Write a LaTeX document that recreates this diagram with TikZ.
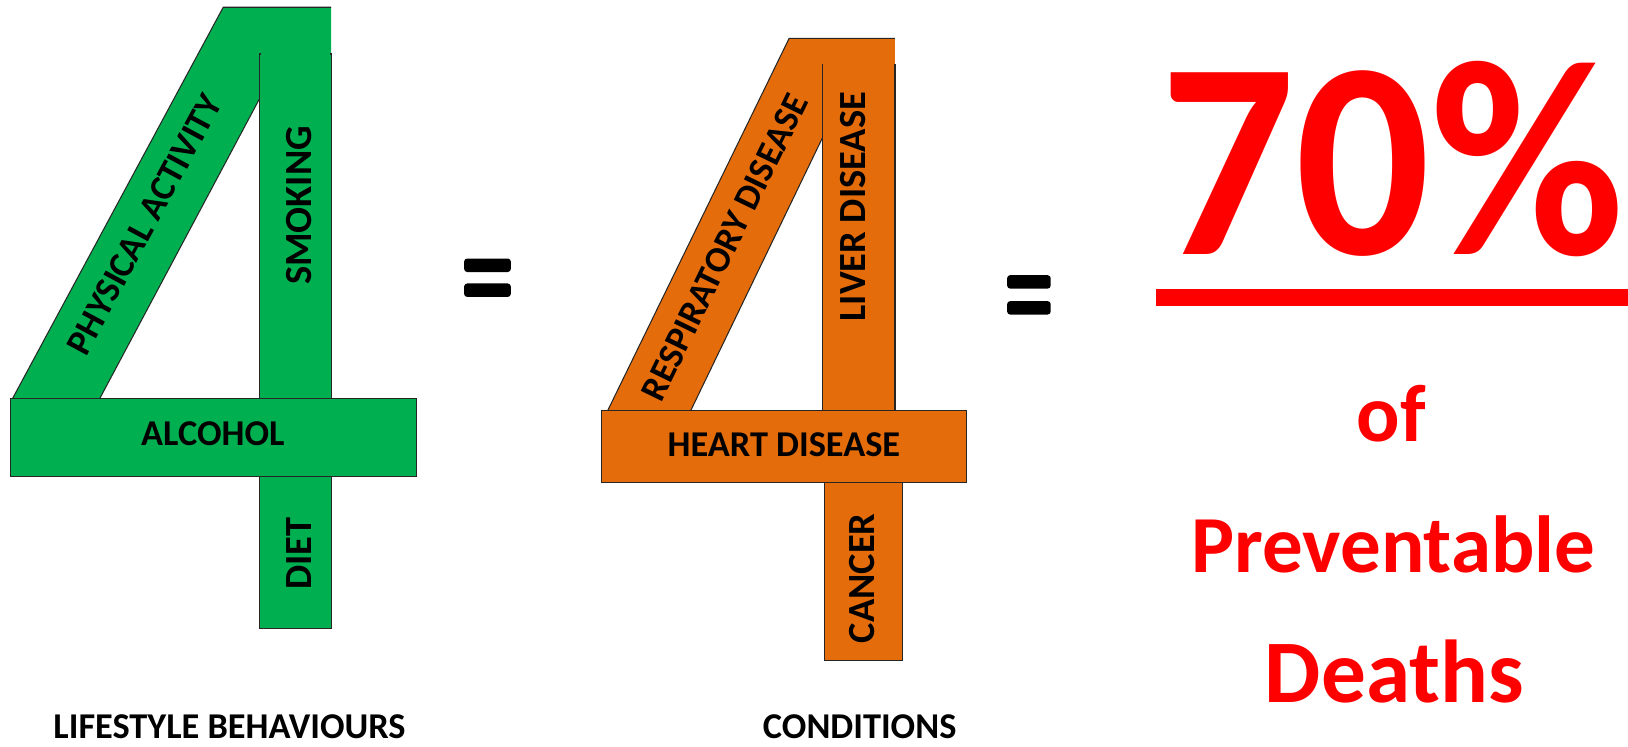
\documentclass[tikz,border=0pt]{standalone}
\usepackage{fontspec}
\setmainfont{Carlito}
\definecolor{lgreen}{HTML}{00B050}
\definecolor{lorange}{HTML}{E46C0A}
\definecolor{lred}{HTML}{FF0000}
\begin{document}
\begin{tikzpicture}[x=1pt,y=-1pt,
  outl/.style={draw=black!85,line width=1pt},
  lbl/.style={font=\fontsize{35}{40}\selectfont\bfseries,text=black,inner sep=0pt},
  vlbl/.style={font=\fontsize{37}{40}\selectfont\bfseries,text=black,inner sep=0pt,rotate=90},
  redtxt/.style={font=\fontsize{78}{90}\selectfont\bfseries,text=lred,inner sep=0pt,anchor=base},
  eqbar/.style={fill=black,rounded corners=3pt}]
\useasboundingbox (0,0) rectangle (1568,719);
% ---------- green 4 ----------
\fill[lgreen] (12,384) -- (215,7) -- (319,7) -- (319,52) -- (250,52) -- (250,95) -- (96,384) -- cycle;
\draw[outl] (12,384) -- (215,7) -- (319,7);
\draw[outl] (250,95) -- (96,384);
\draw[outl,fill=lgreen] (250,52) rectangle (319,605);
\fill[lgreen] (251,40) rectangle (318,60);
\draw[outl,fill=lgreen] (10,384) rectangle (401,459);
\node[lbl] (alc) at (205,418) {ALCOHOL};
\node[vlbl] (smk) at (288,198) {SMOKING};
\node[vlbl] (diet) at (288,533) {DIET};
\node[lbl,rotate=61.7] (phys) at (139,216) {PHYSICAL ACTIVITY};
% ---------- orange 4 ----------
\fill[lorange] (585,396) -- (760,37) -- (862,37) -- (862,62) -- (792,62) -- (792,133) -- (665,396) -- cycle;
\draw[outl] (585,396) -- (760,37) -- (862,37);
\draw[outl] (792,133) -- (665,396);
\draw[outl,fill=lorange] (792,62) rectangle (862,395);
\fill[lorange] (793,50) rectangle (861,68);
\draw[outl,fill=lorange] (794,465) rectangle (869,636);
\draw[outl,fill=lorange] (579,395) rectangle (931,465);
\node[lbl] (heart) at (755,428) {HEART DISEASE};
\node[vlbl] (liver) at (822,199) {LIVER DISEASE};
\node[vlbl] (cancer) at (830,557) {CANCER};
\node[lbl,rotate=64] (resp) at (698,238) {RESPIRATORY DISEASE};
% ---------- equals ----------
\path[eqbar] (447,249) rectangle (492,262);
\path[eqbar] (447,273) rectangle (492,286);
\path[eqbar] (970,265) rectangle (1012,278);
\path[eqbar] (970,290) rectangle (1012,303);
% ---------- captions ----------
\node[lbl] (cap1) at (221,700) {LIFESTYLE BEHAVIOURS};
\node[lbl] (cap2) at (828,700) {CONDITIONS};
% ---------- red ----------
\node[inner sep=0pt,anchor=base,font=\fontsize{270}{280}\selectfont\bfseries,text=lred] (pct) at (1341,245) {\scalebox{0.95}[1]{70\%}};
\fill[lred] (1113,278) rectangle (1568,295);
\node[redtxt] (of) at (1340,425) {of};
\node[redtxt] (prev) at (1342,551) {Preventable};
\node[redtxt,font=\fontsize{86}{90}\selectfont\bfseries] (deaths) at (1343,677) {Deaths};
\end{tikzpicture}
\end{document}
